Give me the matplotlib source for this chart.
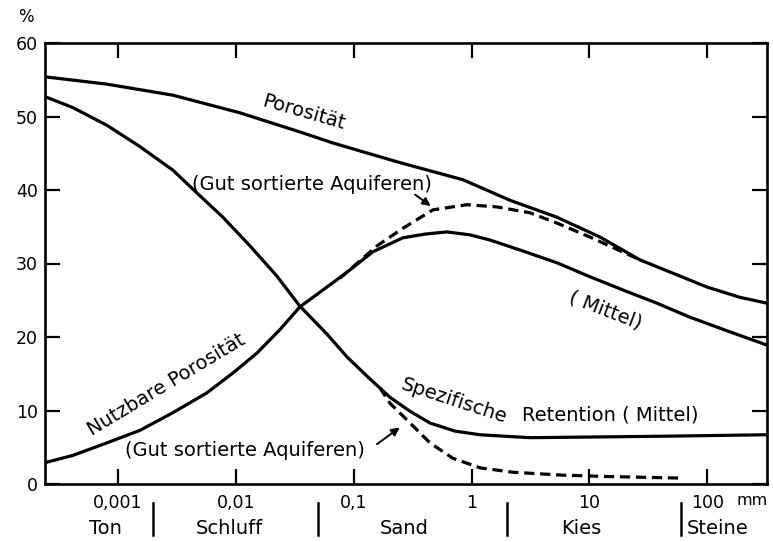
import matplotlib
matplotlib.use("Agg")
import matplotlib.pyplot as plt
from matplotlib.transforms import blended_transform_factory

# Korngroesse in mm, Anteil in %
por_x = [2.41e-4, 8.09e-4, 2.93e-3, 0.01086, 0.0350, 0.0667, 0.2377, 0.845, 2.12, 5.30,
         12.3, 26.8, 99.3, 189, 321]
por_y = [55.4, 54.4, 52.9, 50.5, 47.9, 46.4, 43.8, 41.4, 38.6, 36.3,
         33.6, 30.5, 26.8, 25.4, 24.6]

ret_x = [2.41e-4, 4.17e-4, 8.09e-4, 1.54e-3, 2.93e-3, 4.34e-3, 7.78e-3, 0.0132, 0.0223,
         0.0350, 0.0594, 0.0877, 0.1374, 0.2032, 0.3006, 0.4436, 0.7227, 1.178, 3.128,
         11.58, 42.1, 321]
ret_y = [52.7, 51.2, 48.8, 45.9, 42.7, 40.1, 36.3, 32.4, 28.3,
         24.2, 20.4, 17.3, 14.3, 11.8, 9.9, 8.3, 7.2, 6.7, 6.3,
         6.4, 6.5, 6.7]

nutz_x = [2.41e-4, 4.17e-4, 8.09e-4, 1.54e-3, 2.93e-3, 5.69e-3, 9.46e-3, 0.0151, 0.0237,
          0.0350, 0.0550, 0.0877, 0.1459, 0.2618, 0.4027, 0.618, 0.9687, 1.432, 2.729,
          5.30, 10.1, 19.23, 37.4, 71.1, 155.6, 321]
nutz_y = [2.9, 3.9, 5.6, 7.3, 9.7, 12.4, 15.1, 17.8, 21.0,
          24.1, 26.4, 28.8, 31.6, 33.5, 34.0, 34.3, 33.9, 33.2, 31.7,
          30.1, 28.2, 26.4, 24.6, 22.7, 20.7, 18.9]

# gut sortierte Aquiferen (gestrichelt)
nutz_gut_x = [0.0766, 0.158, 0.262, 0.471, 0.914, 1.64, 3.13, 5.30, 10.1, 26.8]
nutz_gut_y = [28.0, 32.4, 34.8, 37.3, 38.0, 37.7, 36.9, 35.5, 33.6, 30.5]

ret_gut_x = [0.167, 0.203, 0.301, 0.444, 0.695, 1.18, 2.24, 5.96, 15.8, 62.1]
ret_gut_y = [13.1, 11.0, 8.3, 5.6, 3.5, 2.2, 1.6, 1.2, 1.0, 0.8]

xticks = [0.001, 0.01, 0.1, 1, 10, 100]
xticklabels = ["0,001", "0,01", "0,1", "1", "10", "100"]
yticks = [0, 10, 20, 30, 40, 50, 60]

klassen = ["Ton", "Schluff", "Sand", "Kies", "Steine"]
klassen_x = [7.8e-4, 0.0089, 0.27, 8.6, 123]
grenzen = [0.002, 0.05, 2, 60]

fig = plt.figure(figsize=(7.73, 5.42), dpi=100)
ax = fig.add_axes([45/773, 58/542, 722/773, 441/542])

lw = 2.3
dash = (0, (3.2, 1.8))
ax.plot(por_x, por_y, color="black", lw=lw, solid_capstyle="round")
ax.plot(ret_x, ret_y, color="black", lw=lw, solid_capstyle="round")
ax.plot(nutz_x, nutz_y, color="black", lw=lw, solid_capstyle="round")
ax.plot(nutz_gut_x, nutz_gut_y, color="black", lw=lw, linestyle=dash)
ax.plot(ret_gut_x, ret_gut_y, color="black", lw=lw, linestyle=dash)

ax.set_xscale("log")
ax.set_xlim(2.41e-4, 321)
ax.set_ylim(0, 60)
ax.set_xticks(xticks)
ax.set_xticklabels(xticklabels)
ax.minorticks_off()
ax.set_yticks(yticks)
ax.tick_params(direction="in", length=10.5, width=1.6, top=True, right=True,
               labelsize=12.5, pad=7)
ax.tick_params(axis="y", pad=5)
for s in ax.spines.values():
    s.set_linewidth(1.9)

tr = blended_transform_factory(ax.transData, ax.transAxes)
ax.text(178, -0.037, "mm", transform=tr, fontsize=11.5, ha="left", va="center")
fig.text(26/773, 1 - 17/542, "%", fontsize=12, ha="center", va="center")

# Bodenklassen unter der Achse
for k, kx in zip(klassen, klassen_x):
    ax.text(kx, -0.0998, k, transform=tr, fontsize=14, ha="center", va="center")
for g in grenzen:
    ax.plot([g, g], [-0.043, -0.116], transform=tr, color="black", lw=1.8, clip_on=False)

# Beschriftungen
fs = 14
ax.text(0.0379, 50.6, "Porosität", fontsize=fs, rotation=-16, ha="center", va="center",
        rotation_mode="anchor")
ax.text(4.26e-3, 40.7, "(Gut sortierte Aquiferen)", fontsize=fs, ha="left", va="center")
ax.annotate("", xy=(0.471, 37.6), xytext=(0.318, 39.6),
            arrowprops=dict(arrowstyle="-|>", color="black", lw=1.4, mutation_scale=12))
ax.text(13.8, 23.6, "( Mittel)", fontsize=fs, rotation=-21, ha="center", va="center",
        rotation_mode="anchor")
ax.text(2.6e-3, 13.5, "Nutzbare Porosität", fontsize=fs, rotation=31, ha="center",
        va="center", rotation_mode="anchor")
ax.text(1.15e-3, 4.6, "(Gut sortierte Aquiferen)", fontsize=fs, ha="left", va="center")
ax.annotate("", xy=(0.257, 7.9), xytext=(0.151, 5.2),
            arrowprops=dict(arrowstyle="-|>", color="black", lw=1.4, mutation_scale=12))
ax.text(0.71, 11.3, "Spezifische", fontsize=fs, rotation=-18, ha="center", va="center",
        rotation_mode="anchor")
ax.text(2.68, 9.4, "Retention ( Mittel)", fontsize=fs, ha="left", va="center")

fig.savefig("out.png", dpi=100)
